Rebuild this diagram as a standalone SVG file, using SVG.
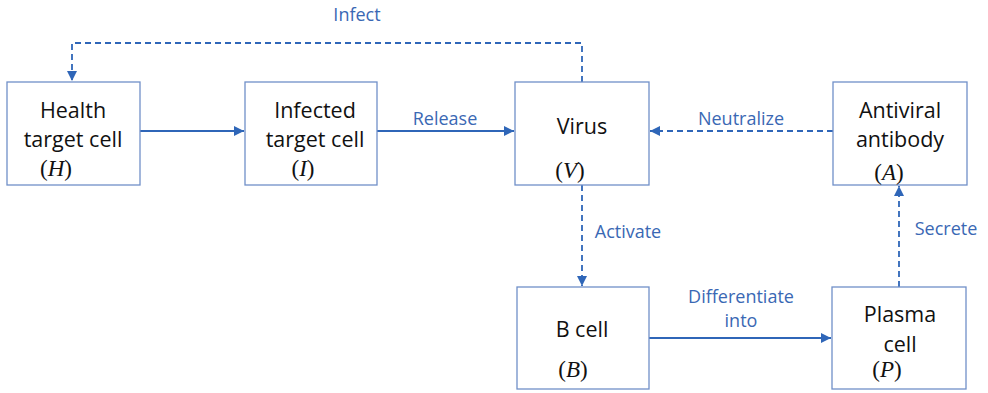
<svg xmlns="http://www.w3.org/2000/svg" width="988" height="393" viewBox="0 0 988 393">
<style>
.box{fill:#fff;stroke:#7090c8;stroke-width:1.3}
.t{font-family:"Open Sans","Noto Sans",sans-serif;font-size:21.5px;fill:#111;text-anchor:middle}
.v{font-family:"Liberation Serif",serif;font-size:23px;fill:#111;text-anchor:middle}
.v tspan.i{font-style:italic}
.lbl{font-family:"Open Sans","Noto Sans",sans-serif;font-size:18px;fill:#3a68b4;text-anchor:middle}
.c{fill:none;stroke:#2f66b8;stroke-width:1.8}
.d{stroke-dasharray:6 4}
</style>
<defs>
<marker id="ah" viewBox="0 0 10 10" refX="10" refY="5" markerWidth="10" markerHeight="10" markerUnits="userSpaceOnUse" orient="auto">
<path d="M0,0 L10,5 L0,10 Z" fill="#2f66b8"/>
</marker>
</defs>
<rect width="988" height="393" fill="#fff"/>
<g id="connectors">
<path class="c d" d="M582,82 V43 H72 V81" marker-end="url(#ah)"/>
<path class="c" d="M140,131 H244" marker-end="url(#ah)"/>
<path class="c" d="M377,131 H514" marker-end="url(#ah)"/>
<path class="c d" d="M833,131 H650" marker-end="url(#ah)"/>
<path class="c d" d="M582,185 V286" marker-end="url(#ah)"/>
<path class="c" d="M649,338 H831" marker-end="url(#ah)"/>
<path class="c d" d="M899,287 V186" marker-end="url(#ah)"/>
<text class="lbl" x="357" y="21">Infect</text>
<text class="lbl" x="445" y="125">Release</text>
<text class="lbl" x="741" y="125">Neutralize</text>
<text class="lbl" x="628" y="238">Activate</text>
<text class="lbl" x="946" y="235">Secrete</text>
<text class="lbl" x="741" y="303">Differentiate</text>
<text class="lbl" x="741" y="327">into</text>
</g>
<g id="node-H">
<rect class="box" x="7" y="82" width="133" height="103"/>
<text class="t" x="73" y="118">Health</text>
<text class="t" x="73" y="147">target cell</text>
<text class="v" x="56" y="176">(<tspan class="i">H</tspan>)</text>
</g>
<g id="node-I">
<rect class="box" x="245" y="82" width="132" height="103"/>
<text class="t" x="315" y="118">Infected</text>
<text class="t" x="315" y="147">target cell</text>
<text class="v" x="303" y="176">(<tspan class="i">I</tspan>)</text>
</g>
<g id="node-V">
<rect class="box" x="515" y="82" width="134" height="103"/>
<text class="t" x="582" y="134">Virus</text>
<text class="v" x="570" y="178">(<tspan class="i">V</tspan>)</text>
</g>
<g id="node-A">
<rect class="box" x="833" y="82" width="134" height="103"/>
<text class="t" x="900" y="118">Antiviral</text>
<text class="t" x="900" y="147">antibody</text>
<text class="v" x="889" y="180">(<tspan class="i">A</tspan>)</text>
</g>
<g id="node-B">
<rect class="box" x="517" y="287" width="132" height="102"/>
<text class="t" x="582" y="337">B cell</text>
<text class="v" x="573" y="377">(<tspan class="i">B</tspan>)</text>
</g>
<g id="node-P">
<rect class="box" x="832" y="287" width="134" height="102"/>
<text class="t" x="900" y="322">Plasma</text>
<text class="t" x="900" y="352">cell</text>
<text class="v" x="887" y="377">(<tspan class="i">P</tspan>)</text>
</g>
</svg>
